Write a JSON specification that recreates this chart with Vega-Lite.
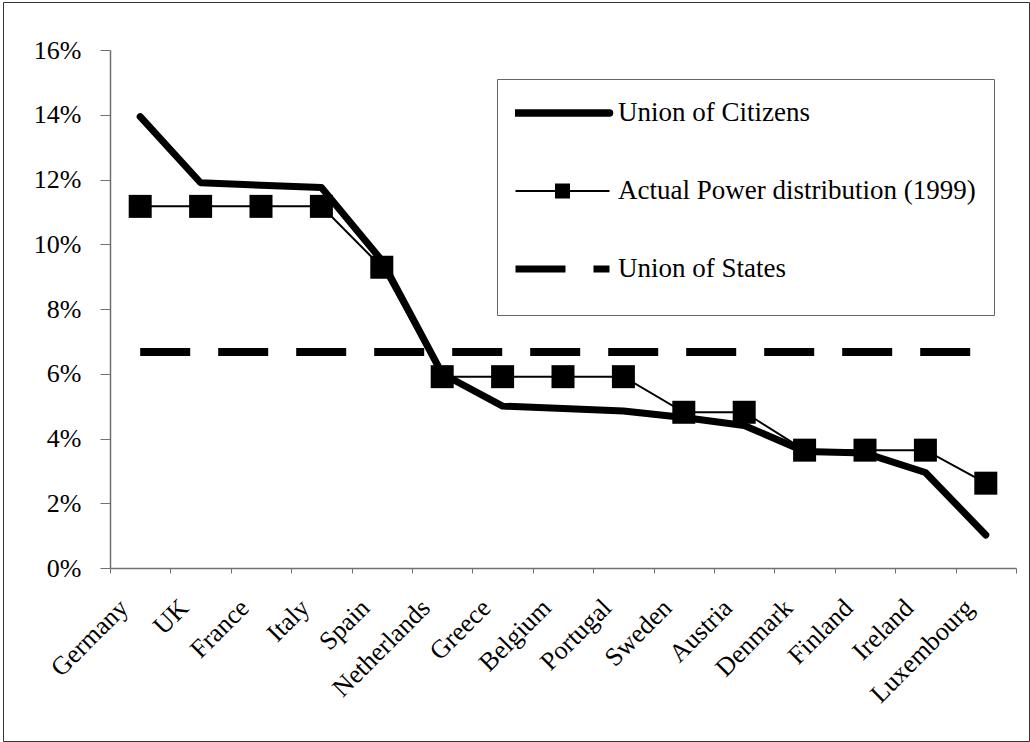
{
  "$schema": "https://vega.github.io/schema/vega-lite/v6.json",
  "width": 1026,
  "height": 739,
  "autosize": {"type": "none"},
  "padding": {"left": 3, "top": 2, "right": 1, "bottom": 1},
  "background": "white",
  "config": {"font": "Liberation Serif", "view": {"stroke": "#333333", "strokeWidth": 1}},
  "data": {"values": [
    {"country": "Germany", "series": "Union of Citizens", "value": 0.1394},
    {"country": "UK", "series": "Union of Citizens", "value": 0.1190},
    {"country": "France", "series": "Union of Citizens", "value": 0.1182},
    {"country": "Italy", "series": "Union of Citizens", "value": 0.1175},
    {"country": "Spain", "series": "Union of Citizens", "value": 0.0950},
    {"country": "Netherlands", "series": "Union of Citizens", "value": 0.0600},
    {"country": "Greece", "series": "Union of Citizens", "value": 0.0500},
    {"country": "Belgium", "series": "Union of Citizens", "value": 0.0493},
    {"country": "Portugal", "series": "Union of Citizens", "value": 0.0485},
    {"country": "Sweden", "series": "Union of Citizens", "value": 0.0465},
    {"country": "Austria", "series": "Union of Citizens", "value": 0.0440},
    {"country": "Denmark", "series": "Union of Citizens", "value": 0.0360},
    {"country": "Finland", "series": "Union of Citizens", "value": 0.0355},
    {"country": "Ireland", "series": "Union of Citizens", "value": 0.0295},
    {"country": "Luxembourg", "series": "Union of Citizens", "value": 0.0102},
    {"country": "Germany", "series": "Actual Power distribution (1999)", "value": 0.1117},
    {"country": "UK", "series": "Actual Power distribution (1999)", "value": 0.1117},
    {"country": "France", "series": "Actual Power distribution (1999)", "value": 0.1117},
    {"country": "Italy", "series": "Actual Power distribution (1999)", "value": 0.1117},
    {"country": "Spain", "series": "Actual Power distribution (1999)", "value": 0.0929},
    {"country": "Netherlands", "series": "Actual Power distribution (1999)", "value": 0.0591},
    {"country": "Greece", "series": "Actual Power distribution (1999)", "value": 0.0591},
    {"country": "Belgium", "series": "Actual Power distribution (1999)", "value": 0.0591},
    {"country": "Portugal", "series": "Actual Power distribution (1999)", "value": 0.0591},
    {"country": "Sweden", "series": "Actual Power distribution (1999)", "value": 0.0481},
    {"country": "Austria", "series": "Actual Power distribution (1999)", "value": 0.0481},
    {"country": "Denmark", "series": "Actual Power distribution (1999)", "value": 0.0364},
    {"country": "Finland", "series": "Actual Power distribution (1999)", "value": 0.0364},
    {"country": "Ireland", "series": "Actual Power distribution (1999)", "value": 0.0364},
    {"country": "Luxembourg", "series": "Actual Power distribution (1999)", "value": 0.0262},
    {"country": "Germany", "series": "Union of States", "value": 0.0667},
    {"country": "UK", "series": "Union of States", "value": 0.0667},
    {"country": "France", "series": "Union of States", "value": 0.0667},
    {"country": "Italy", "series": "Union of States", "value": 0.0667},
    {"country": "Spain", "series": "Union of States", "value": 0.0667},
    {"country": "Netherlands", "series": "Union of States", "value": 0.0667},
    {"country": "Greece", "series": "Union of States", "value": 0.0667},
    {"country": "Belgium", "series": "Union of States", "value": 0.0667},
    {"country": "Portugal", "series": "Union of States", "value": 0.0667},
    {"country": "Sweden", "series": "Union of States", "value": 0.0667},
    {"country": "Austria", "series": "Union of States", "value": 0.0667},
    {"country": "Denmark", "series": "Union of States", "value": 0.0667},
    {"country": "Finland", "series": "Union of States", "value": 0.0667},
    {"country": "Ireland", "series": "Union of States", "value": 0.0667},
    {"country": "Luxembourg", "series": "Union of States", "value": 0.0667}
  ]},
  "encoding": {
    "x": {
      "field": "country", "type": "nominal", "sort": null,
      "scale": {"type": "band", "range": [107, 1013], "paddingInner": 0, "paddingOuter": 0},
      "axis": {
        "title": null, "offset": -173, "tickBand": "extent", "tickSize": 5,
        "domainColor": "#707070", "tickColor": "#707070", "domainWidth": 1.5,
        "labelAngle": -45, "labelAlign": "right", "labelBaseline": "alphabetic",
        "labelPadding": 36, "labelOffset": -11, "labelFont": "Liberation Serif",
        "labelFontSize": 26, "labelColor": "black", "labelOverlap": false, "labelFlush": false, "labelBound": false
      }
    },
    "y": {
      "field": "value", "type": "quantitative",
      "scale": {"domain": [0, 0.16], "range": [566, 48], "nice": false},
      "axis": {
        "title": null, "offset": -107, "values": [0, 0.02, 0.04, 0.06, 0.08, 0.1, 0.12, 0.14, 0.16],
        "format": ".0%", "grid": false, "tickSize": 10, "labelPadding": 19,
        "domainColor": "#707070", "tickColor": "#707070", "domainWidth": 1.5,
        "labelFont": "Liberation Serif", "labelFontSize": 26, "labelColor": "black", "labelOverlap": false, "labelFlush": false
      }
    }
  },
  "layer": [
    {
      "transform": [{"filter": "datum.series === 'Union of States'"}],
      "mark": {"type": "line", "strokeWidth": 8, "strokeDash": [50, 28], "strokeCap": "butt"},
      "encoding": {
        "color": {
          "field": "series", "type": "nominal",
          "scale": {"domain": ["Union of Citizens", "Actual Power distribution (1999)", "Union of States"], "range": ["black", "black", "black"]},
          "legend": {
            "title": " ", "titleOrient": "bottom", "titleFontSize": 6, "titlePadding": 6,
            "orient": "none", "legendX": 494, "legendY": 77,
            "padding": 18, "strokeColor": "#666666", "fillColor": "white",
            "symbolType": "stroke", "symbolSize": 8836, "symbolStrokeWidth": 7, "symbolStrokeColor": "black",
            "symbolOffset": 34,
            "labelFont": "Liberation Serif", "labelFontSize": 27, "labelColor": "black", "labelOffset": 42, "labelLimit": 600,
            "rowPadding": 46, "clipHeight": 32,
            "encode": {"symbols": {"update": {
              "shape": {"signal": "datum.value === 'Actual Power distribution (1999)' ? 'M-1,0H1M-0.138,-0.138H0.138V0.138H-0.138Z' : 'stroke'"},
              "strokeWidth": {"signal": "datum.value === 'Union of Citizens' ? 7.5 : (datum.value === 'Union of States' ? 7 : 2)"},
              "strokeDash": {"signal": "datum.value === 'Union of States' ? [50, 28] : [1, 0]"},
              "strokeCap": {"signal": "datum.value === 'Union of Citizens' ? 'round' : 'butt'"},
              "fill": {"value": "black"},
              "stroke": {"value": "black"},
              "opacity": {"value": 1}
            }}}
          }
        }
      }
    },
    {
      "transform": [{"filter": "datum.series === 'Union of Citizens'"}],
      "mark": {"type": "line", "strokeWidth": 7, "strokeCap": "round", "strokeJoin": "round"},
      "encoding": {"color": {"field": "series", "type": "nominal"}}
    },
    {
      "transform": [{"filter": "datum.series === 'Actual Power distribution (1999)'"}],
      "mark": {"type": "line", "strokeWidth": 2},
      "encoding": {"color": {"field": "series", "type": "nominal"}}
    },
    {
      "transform": [{"filter": "datum.series === 'Actual Power distribution (1999)'"}],
      "mark": {"type": "point", "shape": "square", "filled": true, "size": 529, "color": "black", "opacity": 1},
      "encoding": {}
    }
  ]
}
